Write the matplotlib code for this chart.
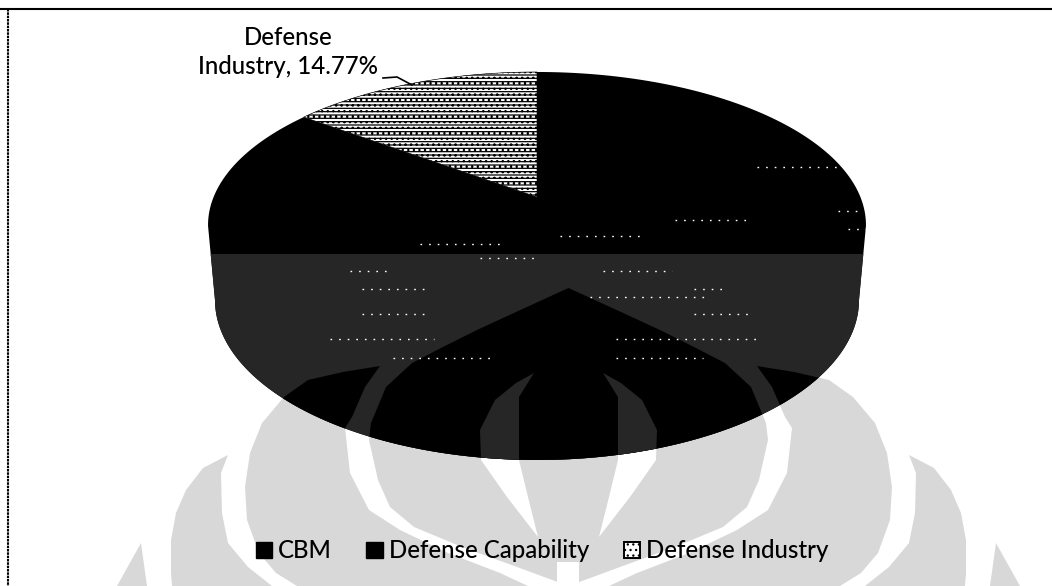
import numpy as np
import matplotlib
matplotlib.use("Agg")
import matplotlib.pyplot as plt
from matplotlib.patches import Polygon, Rectangle, Patch

# --- chart data -------------------------------------------------------
categories = ["CBM", "Defense Capability", "Defense Industry"]
shares = [47.70, 37.53, 14.77]   # only the last one is printed; the first two are hidden in black
slice_colors = ["black", "black", "white"]
slice_hatches = [None, None, "-----..."]

# --- pie geometry (pixels, perspective view) ---------------------------
CX, CY = 537.0, 197.0
SX, SY, K = 323.4, 147.9, 0.183
FRONT_CY, FRONT_A, FRONT_B = 300.0, 322.0, 160.0
SHADE_Y = 254

GRAY = "#d8d8d8"
DARK = "#262626"


def project(theta):
    """Clockwise angle from 12 o'clock to a pixel on the tilted top face."""
    x, y = np.sin(theta), np.cos(theta)
    d = 1 + K * y
    return CX + SX * x / d, CY - SY * y / d


# --- scan watermark outlines (left half, mirrored about MIRROR) --------
MIRROR = 568.5
crescent_a = [(380, 366), (343, 372), (308, 380), (284, 397), (262, 423), (250, 453), (245, 487),
              (247, 520), (259, 553), (276, 573), (297, 586), (528, 586), (500, 573), (448, 553),
              (400, 530), (369, 510), (350, 473), (345, 428), (352, 417), (365, 387)]
crescent_b = [(228, 455), (203, 468), (186, 490), (176, 513), (171, 540), (171, 573), (172, 586),
              (272, 586), (248, 567), (228, 543), (222, 513), (221, 473)]
crescent_c = [(141, 543), (117, 586), (147, 586)]
centre_half = [(568.5, 288), (516, 312), (477, 330), (443, 347), (412, 363), (386, 387), (371, 423),
               (369, 440), (378, 480), (390, 507), (414, 527), (462, 547), (517, 567), (568.5, 586)]
arch_gap = [(534, 373), (516, 383), (495, 400), (480, 430), (481, 460), (507, 497), (538, 537),
            (528, 497), (519, 460), (519, 430), (519, 397)]
column_gap = [(557, 562), (579, 562), (579, 586), (557, 586)]


def mirrored(pts):
    return [(2 * MIRROR - x, y) for x, y in pts]


gray_shapes = [crescent_a, crescent_b, crescent_c,
               mirrored(crescent_a), mirrored(crescent_b), mirrored(crescent_c),
               centre_half + mirrored(centre_half)[::-1]]
gap_shapes = [arch_gap, mirrored(arch_gap), column_gap]

# scan specks left from the hidden labels: (y, x start, x end)
speck_rows = [(167, 757, 837), (211, 838, 862), (229, 848, 867), (220, 675, 750), (244, 420, 500),
              (271, 350, 391), (271, 603, 672), (289, 362, 427), (289, 694, 722), (297, 590, 707),
              (314, 362, 425), (314, 694, 750), (339, 330, 434), (339, 616, 760), (358, 393, 495),
              (358, 616, 703), (236, 560, 640), (258, 480, 540)]

# --- figure -----------------------------------------------------------
plt.rcParams["font.family"] = ["Lato", "DejaVu Sans"]
plt.rcParams["hatch.linewidth"] = 0.9

fig = plt.figure(figsize=(10.52, 5.86), dpi=100, facecolor="white")
ax = fig.add_axes([0, 0, 1, 1])
ax.set_xlim(0, 1052)
ax.set_ylim(586, 0)
ax.axis("off")

# watermark on the white paper
for pts in gray_shapes:
    ax.add_patch(Polygon(pts, closed=True, fc=GRAY, ec="none", zorder=1))
for pts in gap_shapes:
    ax.add_patch(Polygon(pts, closed=True, fc="white", ec="none", zorder=1.5))

# pie body outline: back half of the top face + front rim
t_back = np.linspace(-np.pi / 2 - 0.19, np.pi / 2 + 0.19, 200)
bx, by = project(t_back)
t_front = np.linspace(0, np.pi, 200)
fx = CX + FRONT_A * np.cos(t_front)
fy = FRONT_CY + FRONT_B * np.sin(t_front)
body = Polygon(np.column_stack([np.r_[bx, fx], np.r_[by, fy]]), closed=True, fc="black", ec="none", zorder=2)
ax.add_patch(body)

# lighter scanned lower band, with the watermark showing through it
shade = Rectangle((0, SHADE_Y), 1052, 586 - SHADE_Y, fc=DARK, ec="none", zorder=2.1)
ax.add_patch(shade)
shade.set_clip_path(body)
for pts in gray_shapes:
    p = Polygon(pts, closed=True, fc="black", ec="none", zorder=2.2)
    ax.add_patch(p)
    p.set_clip_path(body)
for pts in gap_shapes:
    p = Polygon(pts, closed=True, fc=DARK, ec="none", zorder=2.3)
    ax.add_patch(p)
    p.set_clip_path(body)

# slices of the top face, from 12 o'clock clockwise
ends = np.cumsum(shares) / np.sum(shares) * 2 * np.pi
starts = np.r_[0, ends[:-1]]
for a0, a1, col, hatch in zip(starts, ends, slice_colors, slice_hatches):
    t = np.linspace(a0, a1, 120)
    x, y = project(t)
    if hatch is None:
        continue  # black slices merge with the black body
    ax.add_patch(Polygon(np.column_stack([np.r_[CX, x], np.r_[CY, y]]), closed=True,
                         fc=col, ec="black", lw=0.4, hatch=hatch, zorder=3))

# specks
for yy, x0, x1 in speck_rows:
    ax.plot([x0, x1], [yy, yy], color="white", lw=1.0, ls=(0, (1.2, 5)), zorder=4)

# data label
ax.text(288, 52, f"Defense\n{categories[2].split()[1]}, {shares[2]:.2f}%", ha="center", va="center",
        fontsize=17.3, fontweight="medium", color="black", linespacing=1.32, zorder=5)
ax.plot([383, 397, 412], [78, 77, 85], color="black", lw=1.2, zorder=5)

# legend
handles = [Patch(fc="black", ec="black"), Patch(fc="black", ec="black"),
           Patch(fc="white", ec="black", lw=1.4, hatch="...")]
ax.legend(handles, categories, ncol=3, loc="center", bbox_to_anchor=(542 / 1052, 1 - 551 / 586),
          frameon=False, handlelength=0.67, handleheight=0.67, handletextpad=0.25,
          columnspacing=1.45, prop={"size": 17.3, "weight": "medium"}, labelcolor="black")

# scanned frame
ax.plot([0, 1052], [9, 9], color="black", lw=1.5, zorder=6)
ax.plot([8, 8], [9, 586], color="black", lw=1.5, ls=(0, (1.2, 0.4)), zorder=6)

fig.savefig("out.png", dpi=100, facecolor="white")
